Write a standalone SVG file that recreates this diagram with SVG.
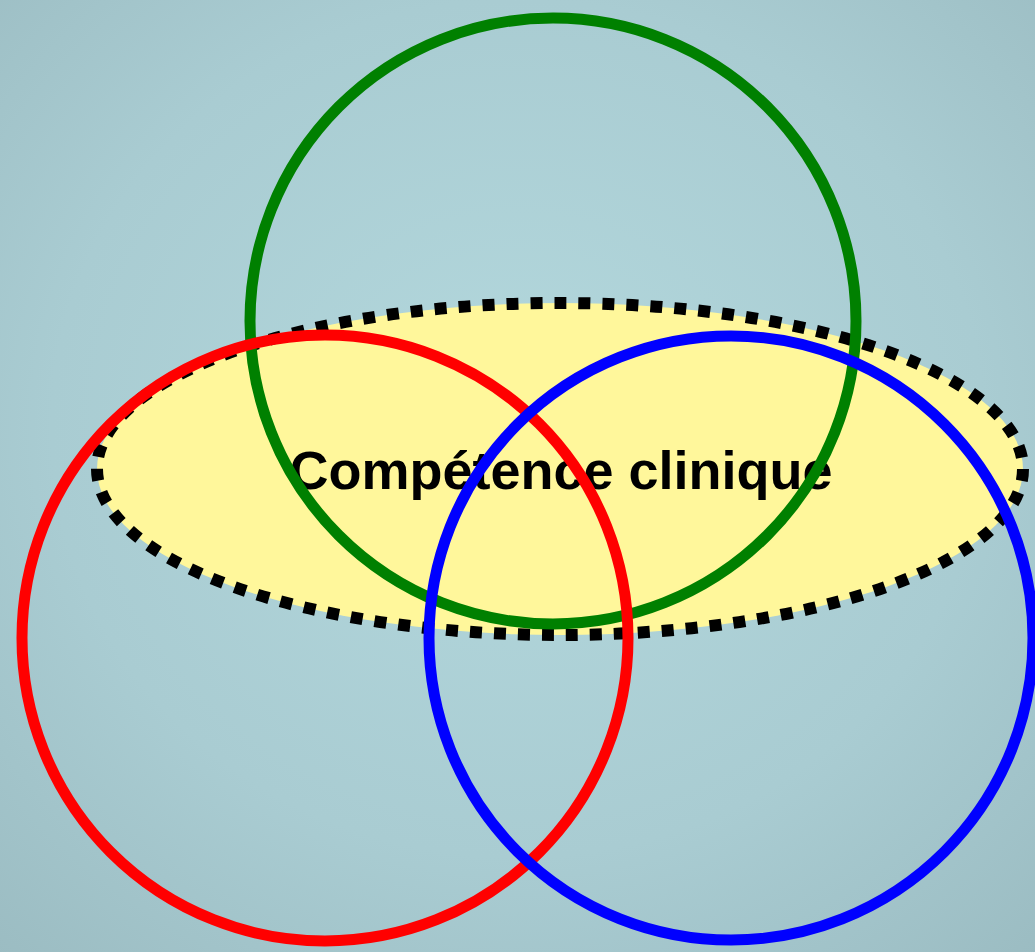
<svg xmlns="http://www.w3.org/2000/svg" width="1035" height="952" viewBox="0 0 1035 952">
  <defs>
    <radialGradient id="bg" cx="0.5" cy="0.45" r="0.75">
      <stop offset="0" stop-color="#b3d8dd"/>
      <stop offset="0.6" stop-color="#a9ccd2"/>
      <stop offset="1" stop-color="#9bbcc2"/>
    </radialGradient>
    <style>
      .ring { fill: none; stroke-width: 11; }
      .label { font-family: "Liberation Sans", Arial, sans-serif; font-weight: bold; font-size: 54px; fill: #000; }
    </style>
  </defs>
  <rect x="0" y="0" width="1035" height="952" fill="url(#bg)"/>
  <g id="competence-clinique">
    <ellipse cx="560" cy="469" rx="463" ry="166" fill="#fff79b" stroke="#000" stroke-width="12" stroke-dasharray="12 12"/>
    <text class="label" x="561" y="489" text-anchor="middle">Compétence clinique</text>
  </g>
  <g id="circles">
    <circle id="circle-green" class="ring" cx="553" cy="321" r="303" stroke="#008000"/>
    <circle id="circle-red" class="ring" cx="325" cy="638" r="303" stroke="#ff0000"/>
    <circle id="circle-blue" class="ring" cx="731" cy="638" r="302" stroke="#0000ff"/>
  </g>
</svg>
